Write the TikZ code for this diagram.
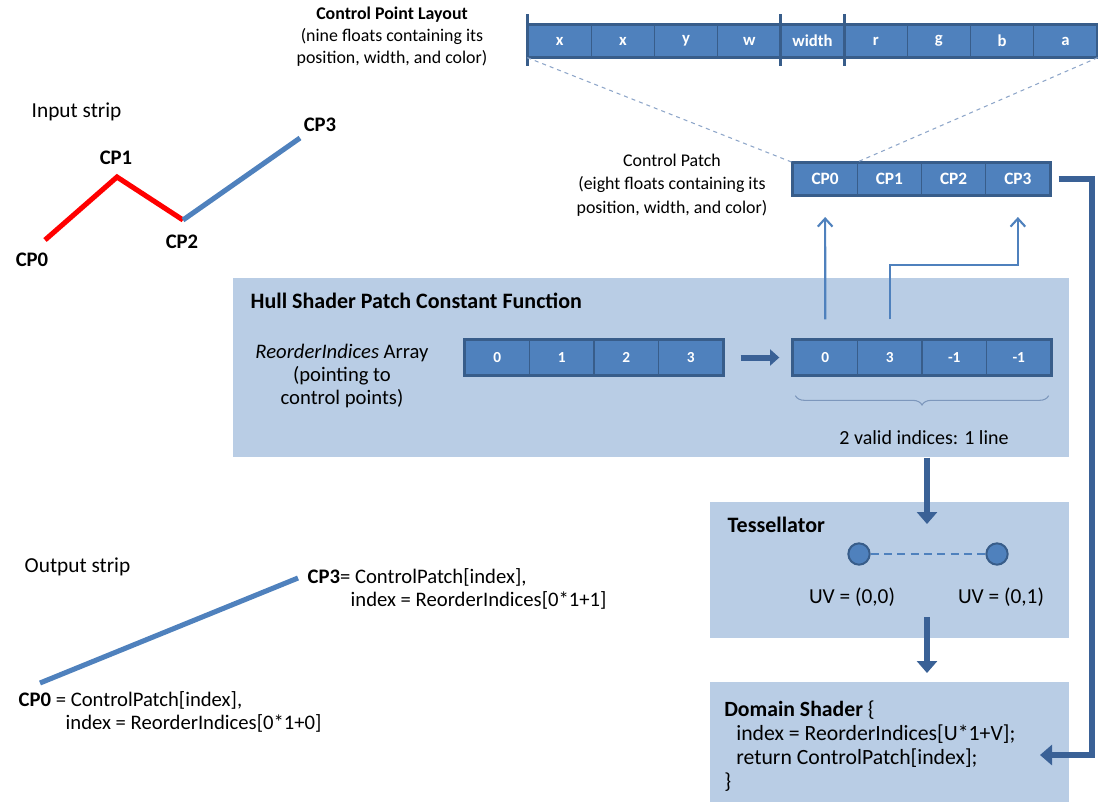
\documentclass[tikz,border=0pt]{standalone}
\usepackage{fontspec}
\setmainfont{Carlito}
\usetikzlibrary{positioning,arrows.meta,calc,decorations.pathreplacing}

\definecolor{cellblue}{HTML}{4F81BD}
\definecolor{celledge}{HTML}{385D8A}
\definecolor{boxblue}{HTML}{B9CDE5}
\definecolor{flowblue}{HTML}{3A6196}
\definecolor{guidegray}{HTML}{8EA6C9}
\definecolor{stripred}{HTML}{FF0000}

\newcommand\fs[2]{\fontsize{#1}{#2}\selectfont}

\tikzset{
  cell/.style={draw=celledge, line width=1pt, fill=cellblue, text=white,
    font=\bfseries\fs{12.5}{14}, minimum height=24pt, inner sep=0pt},
  frame/.style={draw=celledge, line width=1.6pt},
  panel/.style={fill=boxblue, anchor=north west, inner sep=0pt},
  title/.style={anchor=west, font=\bfseries\fs{16.5}{19}},
  fatarrow/.style={draw=flowblue, line width=5pt, -{Triangle[width=15pt,length=9pt]}},
  thinarrow/.style={draw=cellblue, line width=1.6pt, -{Straight Barb[length=6pt,width=11pt]}},
  guide/.style={draw=guidegray, dashed, line width=0.8pt},
  strip/.style={line width=3.8pt},
  uvdot/.style={circle, fill=cellblue, draw=celledge, line width=1.5pt, minimum size=16pt, inner sep=0pt},
}

\begin{document}
\begin{tikzpicture}[x=0.75pt,y=-0.75pt,font=\fs{15.5}{17}]
\useasboundingbox (0,0) rectangle (1098,801);

% ---- input strip ----
\node[anchor=west, font=\fs{16}{18}] (inlbl) at (27,112) {Input strip};
\coordinate (in0) at (45,240);
\coordinate (in1) at (117,177);
\coordinate (in2) at (183,220);
\coordinate (in3) at (300,138);
\draw[strip,stripred] (in0) -- (in1) -- (in2);
\draw[strip,cellblue] (in2) -- (in3);
\node[font=\bfseries\fs{15.5}{17}] (in0lbl) at (32,260) {CP0};
\node[font=\bfseries\fs{15.5}{17}] (in1lbl) at (116,158) {CP1};
\node[font=\bfseries\fs{15.5}{17}] (in2lbl) at (182,242) {CP2};
\node[font=\bfseries\fs{15.5}{17}] (in3lbl) at (320,125) {CP3};

% ---- control point layout ----
\node[align=center, font=\fs{13.4}{16.5}] (laylbl) at (392,37)
  {\textbf{Control Point Layout}\\(nine floats containing its\\position, width, and color)};
\foreach \t [count=\i] in {x,x,y,w,width,r,g,b,a}
  \node[cell, minimum width=47.42pt] (lay\i) at ({528+63.22*(\i-0.5)},41) {\t};
\draw[frame] (lay1.north west) rectangle (lay9.south east);
\draw[celledge, line width=2.4pt] ($(lay1.north west)+(0,-10)$) -- ($(lay1.south west)+(0,8)$);
\draw[celledge, line width=2.4pt] ($(lay5.north west)+(0,-10)$) -- ($(lay5.south west)+(0,8)$);
\draw[celledge, line width=2.4pt] ($(lay5.north east)+(0,-10)$) -- ($(lay5.south east)+(0,8)$);

% ---- control patch ----
\node[align=center, font=\fs{13.4}{17.5}] (cplbl) at (672,185)
  {Control Patch\\(eight floats containing its\\position, width, and color)};
\foreach \i in {0,...,3}
  \node[cell, minimum width=48.19pt, font=\bfseries\fs{13}{14}] (cp\i) at ({793+64.25*(\i+0.5)},179) {CP\i};
\draw[frame] (cp0.north west) rectangle (cp3.south east);
\draw[guide] (lay1.south west) -- (cp0.north west);
\draw[guide] (lay9.south east) -- (cp1.north west);

% ---- hull shader patch constant function ----
\node[panel, minimum width=627pt, minimum height=134.25pt] (hull) at (233,278) {};
\node[title] (hulllbl) at (246,301) {Hull Shader Patch Constant Function};
\node[align=center, font=\fs{15.5}{17.6}] (idxlbl) at (342,376)
  {\textit{ReorderIndices} Array\\(pointing to\\control points)};
\foreach \t [count=\i from 0] in {0,1,2,3}
  \node[cell, minimum width=48.38pt, minimum height=26.25pt, font=\bfseries\fs{11.5}{13}] (src\i) at ({465+64.5*(\i+0.5)},357.5) {\t};
\foreach \t [count=\i from 0] in {0,3,-1,-1}
  \node[cell, minimum width=48.38pt, minimum height=26.25pt, font=\bfseries\fs{11.5}{13}] (dst\i) at ({793+64.5*(\i+0.5)},357.5) {\t};
\draw[frame] (src0.north west) rectangle (src3.south east);
\draw[frame] (dst0.north west) rectangle (dst3.south east);
\draw[fatarrow, line width=4.5pt, -{Triangle[width=12pt,length=7pt]}, shorten <=12.75pt, shorten >=9.75pt] (src3.east) -- (dst0.west);
\draw[guidegray!80!celledge, line width=0.8pt, decorate, decoration={brace, mirror, amplitude=7pt}]
  ($(dst0.south west)+(3,20)$) -- ($(dst3.south east)+(-3,20)$);
\node[font=\fs{15}{17}] (validlbl) at (924,438) {2 valid indices: 1 line};

% indices back to the control patch
\coordinate (hopy) at (0,265);
\coordinate (hop) at (cp3.south |- hopy);
\draw[thinarrow, shorten <=15pt, shorten >=16pt] (dst0.north) -- (cp0.south);
\draw[thinarrow, shorten <=15pt, shorten >=16pt] (dst1.north) |- (hop) -- (cp3.south);

% ---- tessellator ----
\node[panel, minimum width=269.25pt, minimum height=102pt] (tess) at (710,502) {};
\node[title] (tesslbl) at (723,525) {Tessellator};
\node[uvdot] (uv0) at (859,554) {};
\node[uvdot] (uv1) at (997,554) {};
\draw[cellblue, line width=1.5pt, dash pattern=on 6pt off 4pt] (uv0) -- (uv1);
\node[font=\fs{16}{18}] (uv0lbl) at (852,597) {UV = (0,0)};
\node[font=\fs{16}{18}] (uv1lbl) at (1001,597) {UV = (0,1)};

% ---- domain shader ----
\node[panel, minimum width=269.25pt, minimum height=100pt] (dom) at (710,682) {};
\node[anchor=north west, align=left, inner sep=0pt, font=\fs{16.3}{18}] (domlbl) at (724,701)
  {\textbf{Domain Shader} \{\\
   \hspace*{9pt}index = ReorderIndices[U*1+V];\\
   \hspace*{9pt}return ControlPatch[index];\\
   \}};

% ---- flow between stages ----
\coordinate (tessin) at (927,524);
\coordinate (tessout) at (927,617);
\coordinate (domin) at (927,673);
\draw[fatarrow] (hull.south -| tessin) -- (tessin);
\draw[fatarrow] (tessout) -- (domin);
\coordinate (rail) at (1092,0);
\coordinate (domside) at (1040,755);
\draw[fatarrow, line width=4.5pt, shorten <=6pt] (cp3.east) -- (cp3.east -| rail) |- (domside);

% ---- output strip ----
\node[anchor=west, font=\fs{16}{18}] (outlbl) at (20,567) {Output strip};
\coordinate (out0) at (40,683);
\coordinate (out3) at (298,578);
\draw[strip,cellblue] (out0) -- (out3);
\node[anchor=west] (out3lbl) at (303,577) {\textbf{CP3}= ControlPatch[index],};
\node[anchor=west] (out3idx) at (346,600) {index = ReorderIndices[0*1+1]};
\node[anchor=west] (out0lbl) at (14,700) {\textbf{CP0} = ControlPatch[index],};
\node[anchor=west] (out0idx) at (61,723) {index = ReorderIndices[0*1+0]};
\end{tikzpicture}
\end{document}
